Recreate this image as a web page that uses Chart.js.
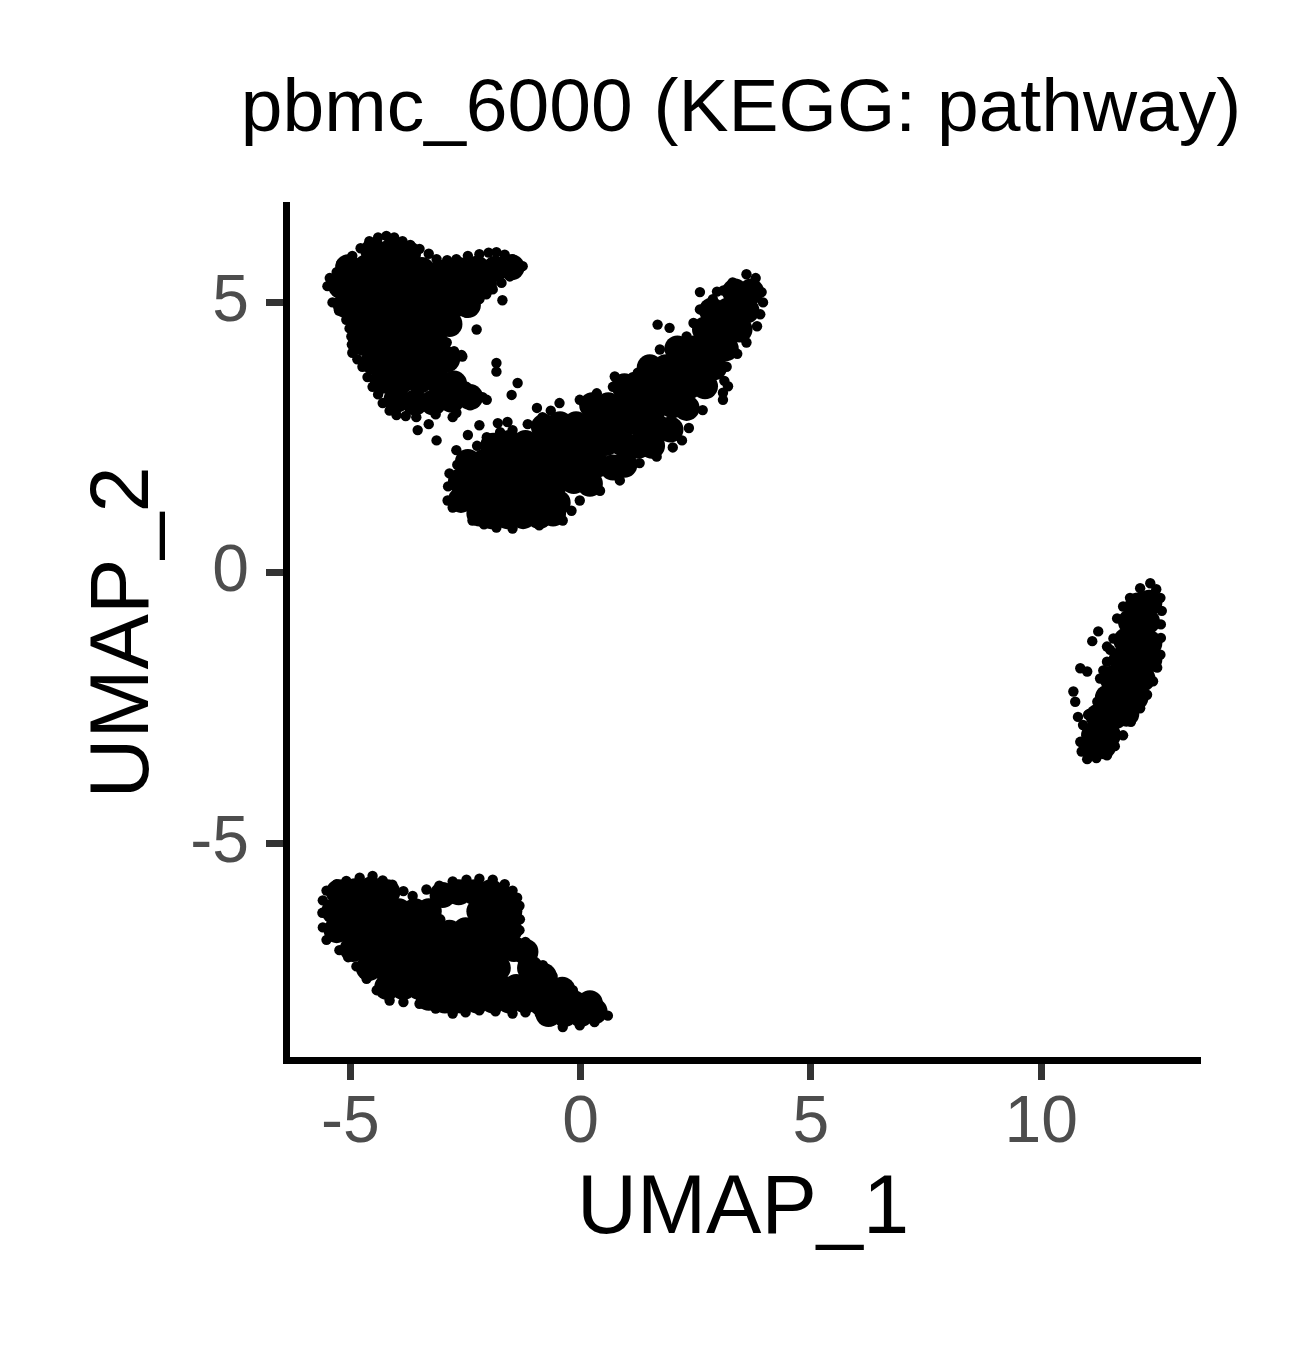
<!DOCTYPE html>
<html>
<head>
<meta charset="utf-8">
<script src="https://cdn.jsdelivr.net/npm/chart.js@4.4.1/dist/chart.umd.min.js"></script>
<style>
  html, body { margin: 0; padding: 0; background: #fff; }
  #wrap { width: 1290px; height: 1350px; }
</style>
</head>
<body>
<div id="wrap"><canvas id="umap" width="1290" height="1350"></canvas></div>
<script>
// axis ticks
const xTicks = [-5, 0, 5, 10];
const yTicks = [-5, 0, 5];

// top-left cluster: dense interior, outline cells, loose cells
const coreTopLeft = [
  [-4.5,5.95],[-4.1,5.95],[-3.75,5.9],
  [-5.05,5.65],[-4.65,5.65],[-4.25,5.65],[-3.85,5.65],[-3.45,5.6],[-3.05,5.55],[-2.65,5.6],[-2.25,5.62],[-1.85,5.62],[-1.5,5.65],
  [-5.2,5.3],[-4.8,5.3],[-4.4,5.3],[-4.0,5.3],[-3.6,5.3],[-3.2,5.3],[-2.8,5.3],[-2.4,5.3],[-2.1,5.35],
  [-5.1,4.95],[-4.7,4.95],[-4.3,4.95],[-3.9,4.95],[-3.5,4.95],[-3.1,4.95],[-2.75,4.95],[-2.45,4.95],
  [-4.8,4.6],[-4.4,4.6],[-4.0,4.6],[-3.6,4.6],[-3.2,4.6],[-2.85,4.6],
  [-4.7,4.25],[-4.3,4.25],[-3.9,4.25],[-3.5,4.25],[-3.15,4.25],
  [-4.5,3.9],[-4.1,3.9],[-3.7,3.9],[-3.3,3.9],[-2.9,3.95],
  [-4.3,3.55],[-3.9,3.55],[-3.5,3.55],[-3.1,3.55],[-2.75,3.5],
  [-4.0,3.2],[-3.6,3.15],[-3.2,3.15],[-2.8,3.2],[-2.4,3.25]
];
const edgeTopLeft = [
  [-5.5,5.3],[-5.39,5.0],[-5.09,4.68],[-4.98,4.37],[-4.96,4.07],[-4.74,3.81],[-4.52,3.44],[-4.3,3.14],[-4.0,2.92],
  [-3.57,2.88],[-2.7,2.96],[-2.04,3.2],[-2.48,3.44],[-3.0,3.7],[-2.57,4.0],[-2.91,4.26],[-2.48,4.81],[-2.2,5.06],
  [-1.91,5.24],[-1.54,5.48],[-1.26,5.67],[-1.48,5.8],[-1.83,5.93],[-2.2,5.89],[-2.7,5.8],[-3.13,5.8],[-3.5,5.99],
  [-3.87,6.13],[-4.22,6.23],[-4.59,6.13],[-4.96,5.86],[-5.3,5.56],
  [-5.45,5.45],[-5.2,5.72],[-4.78,6.0],[-4.4,6.2],[-4.05,6.2],[-3.7,6.06],[-3.3,5.9],[-2.9,5.78],[-2.45,5.86],
  [-2.0,5.92],[-1.65,5.88],[-1.4,5.55],[-1.72,5.36],[-2.05,5.15],[-2.35,4.92],[-2.7,4.55],[-2.75,4.1],[-2.75,3.6],
  [-2.25,3.3],[-2.4,3.1],[-3.15,2.93],[-3.8,2.9],[-4.15,3.0],[-4.4,3.3],[-4.63,3.62],[-4.85,3.95],[-4.97,4.22],
  [-5.02,4.52],[-5.25,4.85]
];
const looseTopLeft = [
  [-2.78,2.88],[-3.54,2.64],[-3.13,2.45],[-2.7,2.27],[-2.2,2.73],[-1.83,3.88],[-1.83,3.72],[-1.37,3.51],[-1.5,3.29],
  [-1.7,5.04],[-2.26,4.5],[-2.59,4.03],[-2.13,3.25],[-1.8,2.77],[-1.59,2.79],[-3.3,2.75],[-2.45,2.55]
];

// diagonal band cluster
const coreBand = [
  [3.35,5.2],[3.7,5.2],
  [2.85,4.85],[3.2,4.85],[3.6,4.85],
  [2.7,4.5],[3.05,4.5],[3.45,4.5],
  [2.1,4.15],[2.45,4.15],[2.8,4.15],[3.15,4.15],
  [1.5,3.8],[1.85,3.8],[2.2,3.8],[2.55,3.8],[2.9,3.8],
  [0.95,3.45],[1.3,3.45],[1.65,3.45],[2.0,3.45],[2.35,3.45],[2.7,3.45],
  [0.25,3.1],[0.6,3.1],[0.95,3.1],[1.3,3.1],[1.65,3.1],[2.0,3.1],[2.3,3.05],
  [-0.8,2.7],[-0.45,2.75],[-0.1,2.75],[0.25,2.75],[0.6,2.75],[0.95,2.75],[1.3,2.75],[1.65,2.7],[1.95,2.65],
  [-1.9,2.35],[-1.55,2.4],[-1.2,2.4],[-0.85,2.4],[-0.5,2.4],[-0.15,2.4],[0.2,2.4],[0.55,2.4],[0.9,2.4],[1.25,2.35],[1.55,2.35],
  [-2.45,2.05],[-2.1,2.05],[-1.75,2.05],[-1.4,2.05],[-1.05,2.05],[-0.7,2.05],[-0.35,2.05],[0,2.05],[0.35,2.0],[0.7,1.95],[0.95,2.0],
  [-2.6,1.7],[-2.25,1.7],[-1.9,1.7],[-1.55,1.7],[-1.2,1.7],[-0.85,1.7],[-0.5,1.7],[-0.15,1.7],[0.2,1.65],
  [-2.6,1.35],[-2.25,1.35],[-1.9,1.35],[-1.55,1.35],[-1.2,1.35],[-0.85,1.35],[-0.5,1.3],
  [-2.2,1.1],[-1.95,1.05],[-1.6,1.05],[-1.25,1.05],[-0.9,1.05],[-0.6,1.1]
];
const edgeBand = [
  [-2.89,1.34],[-2.85,1.84],[-2.68,2.0],[-2.48,2.14],[-2.25,2.35],[-2.04,2.51],[-1.75,2.6],[-1.48,2.64],[-1.15,2.75],
  [-0.83,2.88],[-0.65,3.0],[-0.46,3.14],[-0.02,3.2],[0.35,3.32],[0.7,3.44],[1.13,3.62],[1.4,3.85],[1.72,4.13],
  [2.0,4.25],[2.3,4.37],[2.45,4.62],[2.59,4.87],[2.87,5.06],[3.1,5.22],[3.3,5.37],[3.6,5.52],[3.8,5.45],[3.93,5.19],
  [3.96,5.0],[3.9,4.78],[3.83,4.56],[3.6,4.26],[3.4,4.05],[3.17,3.81],[3.12,3.55],[3.09,3.33],[2.65,3.01],[2.35,2.68],
  [2.0,2.32],[1.65,2.15],[1.28,2.03],[0.85,1.71],[0.42,1.52],[-0.02,1.34],[-0.2,1.15],[-0.39,0.97],[-0.9,0.88],
  [-1.48,0.82],[-1.83,0.84],[-2.1,0.9],[-2.35,0.97],[-2.78,1.21],[-2.88,1.6]
];
const looseBand = [
  [2.59,5.19],[2.96,5.2],[1.67,4.59],[1.93,4.53],[0.74,3.63],[1.24,3.7],[3.09,3.2],[2.2,2.45],[3.2,3.45],[-0.95,3.05]
];

// bottom-left cluster
const coreBottom = [
  [-5.25,-5.9],[-4.9,-5.88],[-4.55,-5.85],[-4.2,-5.9],[-3.0,-5.95],[-2.65,-5.9],[-2.3,-5.9],[-1.95,-5.9],[-1.7,-6.0],
  [-5.35,-6.25],[-5.0,-6.25],[-4.65,-6.25],[-4.3,-6.25],[-3.95,-6.25],[-3.6,-6.25],[-3.3,-6.25],[-2.2,-6.25],[-1.85,-6.25],[-1.55,-6.25],
  [-5.3,-6.6],[-4.95,-6.6],[-4.6,-6.6],[-4.25,-6.6],[-3.9,-6.6],[-3.55,-6.6],[-3.2,-6.6],[-2.85,-6.65],[-2.5,-6.6],[-2.15,-6.6],[-1.8,-6.6],[-1.55,-6.6],
  [-4.95,-6.95],[-4.6,-6.95],[-4.25,-6.95],[-3.9,-6.95],[-3.55,-6.95],[-3.2,-6.95],[-2.85,-6.95],[-2.5,-6.95],[-2.15,-6.95],[-1.8,-6.95],[-1.45,-6.95],[-1.2,-7.0],
  [-4.6,-7.3],[-4.25,-7.3],[-3.9,-7.3],[-3.55,-7.3],[-3.2,-7.3],[-2.85,-7.3],[-2.5,-7.3],[-2.15,-7.3],[-1.8,-7.3],[-1.1,-7.3],[-0.8,-7.45],
  [-4.2,-7.65],[-3.85,-7.65],[-3.5,-7.65],[-3.15,-7.65],[-2.8,-7.65],[-2.45,-7.65],[-2.1,-7.65],[-1.75,-7.65],[-1.4,-7.65],[-1.05,-7.65],[-0.7,-7.65],[-0.4,-7.7],
  [-3.3,-7.85],[-2.95,-7.9],[-2.6,-7.9],[-2.25,-7.9],[-1.9,-7.9],[-1.55,-7.9],[-1.2,-7.9],[-0.85,-7.95],[-0.5,-7.95],[-0.15,-7.95],[0.2,-7.95],
  [-0.7,-8.15],[-0.35,-8.15],[0.0,-8.15],[0.3,-8.1]
];
const edgeBottom = [
  [-5.61,-6.28],[-5.6,-6.05],[-5.52,-5.87],[-5.3,-5.75],[-5.09,-5.69],[-4.8,-5.63],[-4.52,-5.6],[-4.3,-5.68],[-4.09,-5.76],
  [-3.85,-5.88],[-3.65,-5.97],[-3.35,-5.85],[-3.07,-5.78],[-2.78,-5.7],[-2.48,-5.67],[-2.2,-5.65],[-1.91,-5.67],[-1.65,-5.75],
  [-1.48,-5.87],[-1.38,-6.0],[-1.33,-6.15],[-1.32,-6.4],[-1.33,-6.6],[-1.2,-6.82],[-1.04,-7.03],[-0.82,-7.25],[-0.61,-7.45],
  [-0.4,-7.58],[-0.17,-7.71],[0.05,-7.86],[0.26,-8.02],[0.45,-8.1],[0.59,-8.18],[0.3,-8.3],[-0.02,-8.36],[-0.39,-8.39],
  [-0.65,-8.28],[-0.89,-8.14],[-1.2,-8.12],[-1.48,-8.14],[-1.85,-8.1],[-2.2,-8.08],[-2.5,-8.12],[-2.78,-8.14],[-3.15,-8.05],
  [-3.5,-7.96],[-3.85,-7.93],[-4.15,-7.9],[-4.43,-7.71],[-4.65,-7.5],[-4.87,-7.27],[-5.05,-7.1],[-5.24,-6.97],[-5.52,-6.78],
  [-5.6,-6.55],[-2.75,-6.02],[-3.05,-6.4]
];

// right cluster
const coreRight = [
  [12.1,-0.6],[12.35,-0.55],
  [11.95,-0.9],[12.3,-0.9],
  [11.85,-1.25],[12.2,-1.25],[12.35,-1.3],
  [11.75,-1.6],[12.1,-1.6],[12.35,-1.6],
  [11.55,-1.95],[11.9,-1.95],[12.2,-1.95],
  [11.45,-2.3],[11.8,-2.3],[12.05,-2.3],
  [11.25,-2.65],[11.6,-2.65],[11.85,-2.6],
  [11.15,-3.0],[11.45,-3.0],
  [11.1,-3.2],[11.35,-3.2]
];
const edgeRight = [
  [12.37,-0.19],[12.5,-0.3],[12.59,-0.46],[12.62,-0.7],[12.6,-0.95],[12.6,-1.2],[12.59,-1.51],[12.52,-1.75],[12.43,-2.0],
  [12.3,-2.25],[12.15,-2.5],[11.95,-2.75],[11.78,-3.0],[11.6,-3.2],[11.43,-3.37],[11.2,-3.42],[11.0,-3.44],[10.88,-3.3],
  [10.85,-3.12],[10.91,-2.81],[11.05,-2.6],[11.22,-2.38],[11.28,-1.95],[11.35,-1.8],[11.43,-1.64],[11.5,-1.42],[11.57,-1.21],
  [11.65,-0.84],[11.78,-0.62],[11.93,-0.46],[12.15,-0.28]
];
const looseRight = [
  [11.24,-1.08],[11.11,-1.26],[10.85,-1.76],[11.0,-1.82],[10.7,-2.19],[10.74,-2.38],[10.8,-2.66],[11.02,-2.62],[11.43,-1.36]
];

const FONT = "'Liberation Sans', Arial, Helvetica, sans-serif";
const toXY = arr => arr.map(p => ({ x: p[0], y: p[1] }));

const denseCells = [].concat(coreTopLeft, coreBand, coreBottom, coreRight);
const singleCells = [].concat(edgeTopLeft, looseTopLeft, edgeBand, looseBand, edgeBottom, edgeRight, looseRight);

const ctx = document.getElementById("umap").getContext("2d");
new Chart(ctx, {
  type: "scatter",
  data: {
    datasets: [
      { label: "dense", data: toXY(denseCells), pointRadius: 13, pointHoverRadius: 13,
        backgroundColor: "#000000", borderWidth: 0 },
      { label: "cells", data: toXY(singleCells), pointRadius: 5.2, pointHoverRadius: 5.2,
        backgroundColor: "#000000", borderWidth: 0 }
    ]
  },
  options: {
    responsive: false,
    devicePixelRatio: 1,
    animation: false,
    events: [],
    // left padding shifts the full-width title so it centres over the panel
    layout: { padding: { left: 192, right: 0, top: 0, bottom: 0 } },
    plugins: {
      legend: { display: false },
      tooltip: { enabled: false },
      title: {
        display: true,
        text: "pbmc_6000 (KEGG: pathway)",
        fullSize: true,
        color: "#000000",
        font: { family: FONT, size: 75, weight: "normal", lineHeight: 1 },
        padding: { top: 73, bottom: 57 }
      }
    },
    scales: {
      x: {
        type: "linear",
        min: -6.4,
        max: 13.45,
        afterBuildTicks: s => { s.ticks = xTicks.map(v => ({ value: v })); },
        afterFit: s => { s.height = 290; },
        grid: { drawOnChartArea: false, drawTicks: true, tickLength: 20, tickColor: "#333333", tickWidth: 7 },
        border: { display: true, color: "#000000", width: 7 },
        ticks: { color: "#4d4d4d", font: { family: FONT, size: 66, lineHeight: 1.2 }, padding: 4, maxRotation: 0 },
        title: {
          display: true, text: "UMAP_1", color: "#000000",
          font: { family: FONT, size: 83, lineHeight: 1 },
          padding: { top: 0, bottom: 98 }
        }
      },
      y: {
        type: "linear",
        min: -9.0,
        max: 6.8,
        afterBuildTicks: s => { s.ticks = yTicks.map(v => ({ value: v })); },
        afterFit: s => { s.width = 94; },
        grid: { drawOnChartArea: false, drawTicks: true, tickLength: 20, tickColor: "#333333", tickWidth: 7 },
        border: { display: true, color: "#000000", width: 7 },
        ticks: { color: "#4d4d4d", font: { family: FONT, size: 66, lineHeight: 1.2 }, padding: 17 },
        title: {
          display: true, text: "UMAP_2", color: "#000000",
          font: { family: FONT, size: 83, lineHeight: 1 },
          padding: { top: -108.5, bottom: 0 }
        }
      },
      // empty right gutter so the panel ends where the reference panel ends
      gutter: {
        type: "linear",
        position: "right",
        display: true,
        afterFit: s => { s.width = 90; },
        grid: { display: false, drawTicks: false },
        border: { display: false },
        ticks: { display: false }
      }
    }
  }
});
</script>
</body>
</html>
